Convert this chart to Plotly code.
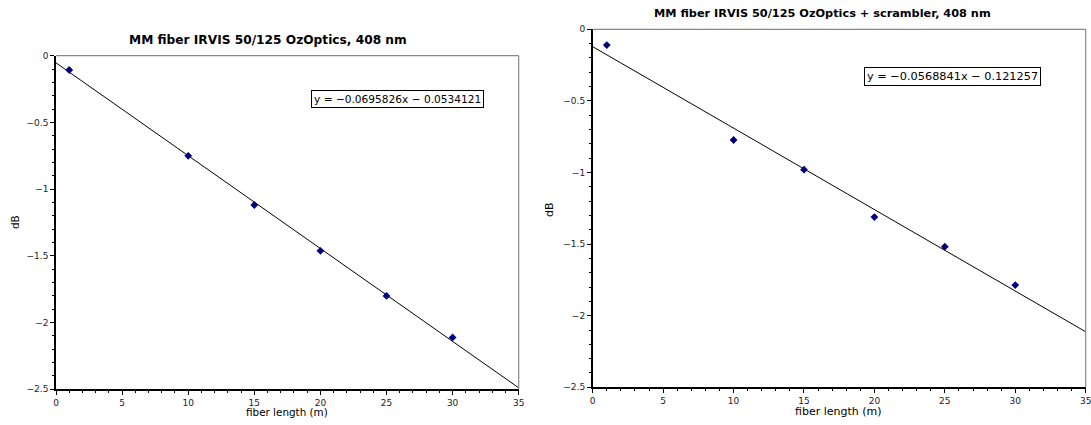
import plotly.graph_objects as go

W, H = 1091, 425

# data
fiber_length = [1, 10, 15, 20, 25, 30]
loss_plain = [-0.107, -0.750, -1.119, -1.462, -1.800, -2.111]
loss_scrambler = [-0.110, -0.773, -0.980, -1.311, -1.518, -1.786]
fit_slope = [-0.0695826, -0.0568841]
fit_intercept = [-0.0534121, -0.121257]
fit_labels = ["y = \u22120.0695826x \u2212 0.0534121", "y = \u22120.0568841x \u2212 0.121257"]
titles = ["MM fiber IRVIS 50/125 OzOptics, 408 nm",
          "MM fiber IRVIS 50/125 OzOptics + scrambler, 408 nm"]
x_range = [0, 35]
y_range = [-2.5, 0]
x_ticks = [0, 5, 10, 15, 20, 25, 30, 35]
y_ticks = [-2.5, -2, -1.5, -1, -0.5, 0]
y_ticklabels = ["\u22122.5", "\u22122", "\u22121.5", "\u22121", "\u22120.5", "0"]

FONT = "DejaVu Sans"

def px_x(p):
    return p / W

def px_y(p):
    return 1 - p / H

# pixel boxes: (left, right, top, bottom)
boxes = [(56, 518.7, 55.7, 389.3), (592.7, 1085.7, 29.3, 387.3)]

fig = go.Figure()
series = [loss_plain, loss_scrambler]
for i in range(2):
    xa = "x" if i == 0 else "x2"
    ya = "y" if i == 0 else "y2"
    fit_x = list(x_range)
    fit_y = [fit_slope[i] * v + fit_intercept[i] for v in fit_x]
    fig.add_trace(go.Scatter(x=fit_x, y=fit_y, mode="lines",
                             line=dict(color="black", width=1),
                             xaxis=xa, yaxis=ya, showlegend=False, cliponaxis=True))
    fig.add_trace(go.Scatter(x=fiber_length, y=series[i], mode="markers",
                             marker=dict(symbol="diamond", size=6, color="#00007f"),
                             xaxis=xa, yaxis=ya, showlegend=False))

axis_common = dict(
    showgrid=False, zeroline=False, showline=True, linecolor="black", linewidth=1.5,
    ticks="outside", ticklen=4, tickwidth=1, tickcolor="black",
    tickfont=dict(family=FONT, size=9, color="#222"),
    minor=dict(ticks="outside", ticklen=2, tickwidth=1, tickcolor="black"),
    mirror=False, automargin=False, ticklabeloverflow="allow",
)

layout = dict(width=W, height=H, margin=dict(l=0, r=0, t=0, b=0, autoexpand=False),
              plot_bgcolor="white", paper_bgcolor="white",
              font=dict(family=FONT, color="black"))
shapes = []
annotations = []
for i, (l, r, t, b) in enumerate(boxes):
    sfx = "" if i == 0 else "2"
    layout["xaxis" + sfx] = dict(axis_common, domain=[px_x(l), px_x(r)], range=x_range,
                                 tickvals=x_ticks, anchor="y" + sfx,
                                 minor=dict(axis_common["minor"], dtick=1))
    layout["yaxis" + sfx] = dict(axis_common, domain=[px_y(b), px_y(t)], range=y_range,
                                 tickvals=y_ticks, ticktext=y_ticklabels, anchor="x" + sfx,
                                 minor=dict(axis_common["minor"], dtick=0.1))
    # top and right frame lines (gray)
    shapes.append(dict(type="line", xref="paper", yref="paper",
                       x0=px_x(l), x1=px_x(r), y0=px_y(t), y1=px_y(t),
                       line=dict(color="#888", width=1.2)))
    shapes.append(dict(type="line", xref="paper", yref="paper",
                       x0=px_x(r), x1=px_x(r), y0=px_y(t), y1=px_y(b),
                       line=dict(color="#888", width=1.2)))

# titles
annotations.append(dict(text="<b>" + titles[0] + "</b>", x=px_x(267.5), y=px_y(40),
                        xref="paper", yref="paper", showarrow=False,
                        font=dict(family=FONT, size=12.2), xanchor="center", yanchor="middle"))
annotations.append(dict(text="<b>" + titles[1] + "</b>", x=px_x(651.7), y=px_y(13),
                        xref="paper", yref="paper", showarrow=False,
                        font=dict(family=FONT, size=11.3), xanchor="left", yanchor="middle"))
# axis labels
for (cx, cy), fs in zip([(287, 412), (838, 411)], [10.4, 11.0]):
    annotations.append(dict(text="fiber length (m)", x=px_x(cx), y=px_y(cy),
                            xref="paper", yref="paper", showarrow=False,
                            font=dict(family=FONT, size=fs), xanchor="center", yanchor="middle"))
for (cx, cy), fs in zip([(15, 222), (549, 210)], [10.4, 11.0]):
    annotations.append(dict(text="dB", x=px_x(cx), y=px_y(cy), textangle=-90,
                            xref="paper", yref="paper", showarrow=False,
                            font=dict(family=FONT, size=fs), xanchor="center", yanchor="middle"))
# fit equations
for (cx, cy), txt, fs in zip([(397.5, 99), (952.7, 76)], fit_labels, [10.6, 11.3]):
    annotations.append(dict(text=txt, x=px_x(cx), y=px_y(cy),
                            xref="paper", yref="paper", showarrow=False,
                            font=dict(family=FONT, size=fs), xanchor="center", yanchor="middle",
                            bordercolor="black", borderwidth=1, borderpad=2, bgcolor="white"))

layout["shapes"] = shapes
layout["annotations"] = annotations
fig.update_layout(**layout)
fig.write_html("out.html", config={"displayModeBar": False},
               post_script="document.body.style.margin='0';document.body.style.overflow='hidden';")
